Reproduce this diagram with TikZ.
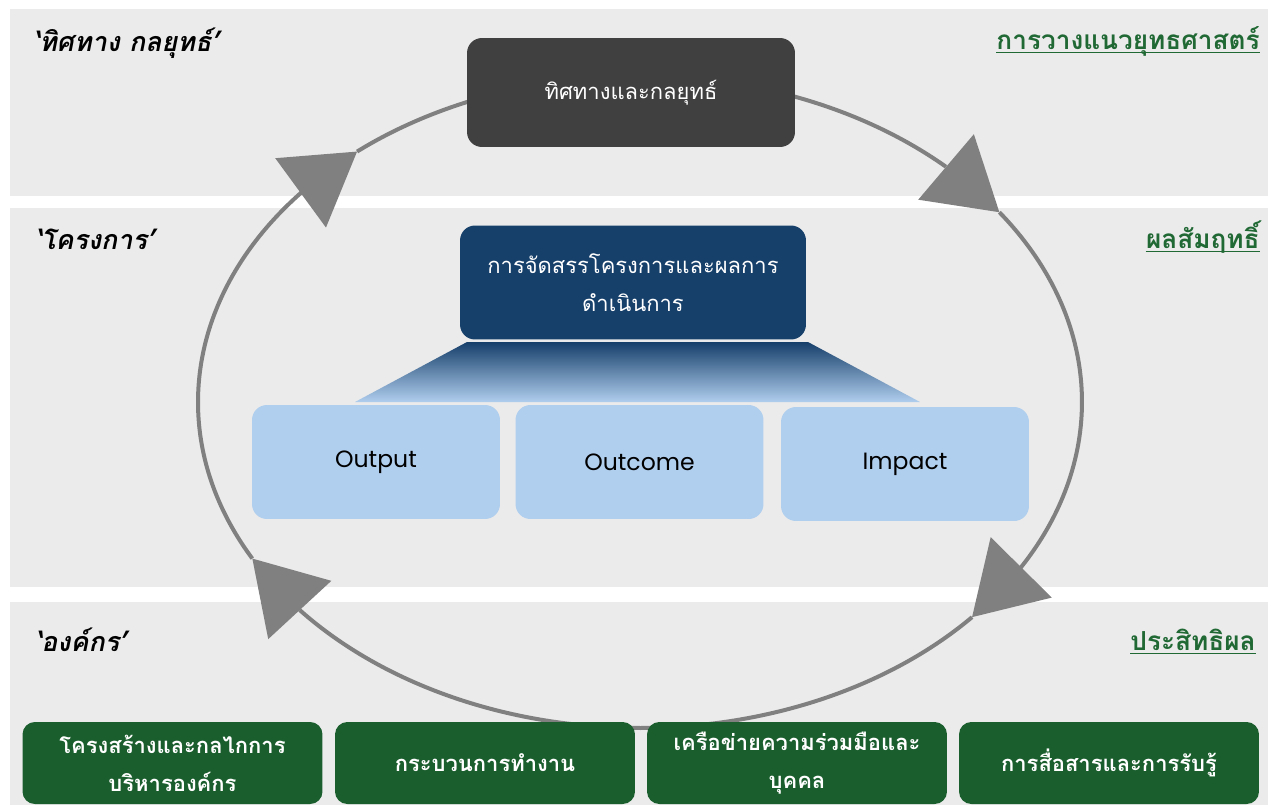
\documentclass[tikz,border=0pt]{standalone}
\usepackage{fontspec}
\setmainfont{Poppins}
\newfontfamily\thai[Script=Thai]{Loma}
\newfontfamily\thaisl[Script=Thai,FakeSlant=0.2]{Loma}
\usetikzlibrary{arrows.meta,bending}
\definecolor{bandgray}{RGB}{235,235,235}
\definecolor{darkbox}{RGB}{64,64,64}
\definecolor{navy}{RGB}{22,63,106}
\definecolor{trapmid}{RGB}{98,128,162}
\definecolor{paleblue}{RGB}{176,206,238}
\definecolor{darkgreen}{RGB}{27,94,46}
\definecolor{labelgreen}{RGB}{32,104,52}
\definecolor{cyclegray}{RGB}{128,128,128}
\tikzset{
	band/.style={fill=bandgray},
	greybox/.style={rounded corners=8.5pt,fill=darkbox,text=white,inner sep=0pt,align=center,minimum width=6.56cm,minimum height=2.18cm,font=\thai\fontsize{12.5}{22}\selectfont},
	navybox/.style={rounded corners=8.5pt,fill=navy,text=white,inner sep=0pt,align=center,minimum width=6.92cm,minimum height=2.28cm,font=\thai\fontsize{12.5}{22}\selectfont},
	bluebox/.style={rounded corners=8.5pt,fill=paleblue,inner sep=0pt,minimum width=4.96cm,minimum height=2.28cm,font=\fontsize{13.4}{15}\selectfont},
	greenbox/.style={rounded corners=7pt,fill=darkgreen,text=white,inner sep=0pt,align=center,minimum width=6cm,minimum height=1.64cm,font=\thai\bfseries\fontsize{12.5}{21.5}\selectfont},
	sidetitle/.style={anchor=base west,inner sep=0pt,font=\thaisl\bfseries\fontsize{15.3}{18}\selectfont},
	sidelabel/.style={anchor=base east,inner sep=0pt,text=labelgreen,font=\thai\bfseries\fontsize{14.9}{18}\selectfont},
	underbar/.style={draw=labelgreen,line width=1.1pt},
	cyclearrow/.style={draw=cyclegray,line width=0.08cm,-{Triangle[length=1.4cm,width=1.7cm,flex]}}
}
\begin{document}
\begin{tikzpicture}[x=0.02cm,y=-0.02cm]
	\fill[white] (0,0) rectangle (1271,805);
	\useasboundingbox (0,0) rectangle (1271,805);
	\fill[band] (10,9) rectangle (1268,196);
	\fill[band] (10,208) rectangle (1268,587);
	\fill[band] (10,602) rectangle (1268,805);
	\shade[top color=navy,middle color=trapmid,bottom color=paleblue] (467,342) -- (808,342) -- (920,402) -- (355,402) -- cycle;
	\coordinate (ctr) at (640,402);
	\foreach \a/\b in {151.3/230.2,230.2/324.4,324.4/401.3,41.3/151.3}
		\draw[cyclearrow] ([shift={(\a:442 and 326)}]ctr) arc[start angle=\a,end angle=\b,x radius=442,y radius=326];
	\node[greybox] (strategy) at (631,92.5) {ทิศทางและกลยุทธ์};
	\node[navybox] (allocation) at (633,282.5) {การจัดสรรโครงการและผลการ\\ดำเนินการ};
	\node[bluebox] (output) at (376,462) {Output};
	\node[bluebox] (outcome) at (639.5,462) {Outcome};
	\node[bluebox] (impact) at (905,464) {Impact};
	\node[greenbox] (structure) at (172.5,763) {โครงสร้างและกลไกการ\\บริหารองค์กร};
	\node[greenbox] (process) at (485,763) {กระบวนการทำงาน};
	\node[greenbox] (network) at (797,763) {เครือข่ายความร่วมมือและ\\บุคคล};
	\node[greenbox] (communication) at (1109,763) {การสื่อสารและการรับรู้};
	\node[sidetitle] (directiontitle) at (33,51) {‘ทิศทาง กลยุทธ์’};
	\node[sidetitle] (projecttitle) at (35,249) {‘โครงการ’};
	\node[sidetitle] (orgtitle) at (35,651) {‘องค์กร’};
	\node[sidelabel] (planning) at (1260,49) {การวางแนวยุทธศาสตร์};
	\node[sidelabel] (achievement) at (1260,248) {ผลสัมฤทธิ์};
	\node[sidelabel] (efficiency) at (1256,650) {ประสิทธิผล};
	\foreach \n in {planning,achievement,efficiency}
		\draw[underbar] ([yshift=-2pt]\n.base west) -- ([yshift=-2pt]\n.base east);
\end{tikzpicture}
\end{document}
